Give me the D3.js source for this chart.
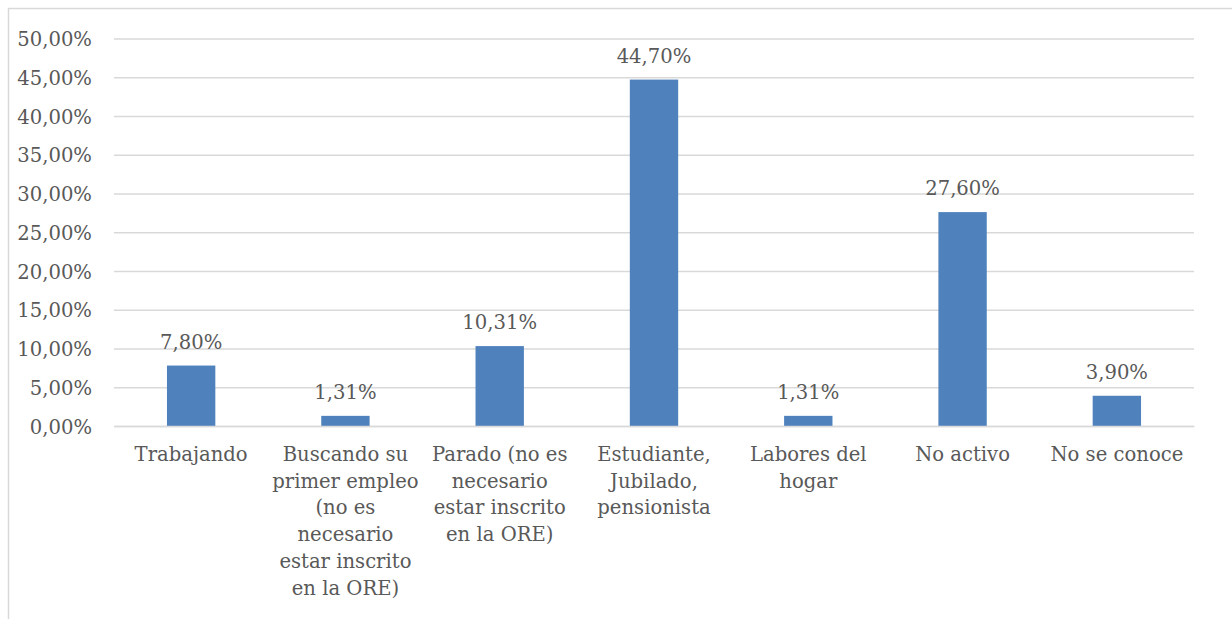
<!DOCTYPE html>
<html><head><meta charset="utf-8">
<script src="https://cdn.jsdelivr.net/npm/d3@7"></script>
<style>body{margin:0;background:#fff}svg{display:block}</style>
</head><body><svg id="c" width="1232" height="619"></svg>
<script>
const categories = [
  ["Trabajando"],
  ["Buscando su","primer empleo","(no es","necesario","estar inscrito","en la ORE)"],
  ["Parado (no es","necesario","estar inscrito","en la ORE)"],
  ["Estudiante,","Jubilado,","pensionista"],
  ["Labores del","hogar"],
  ["No activo"],
  ["No se conoce"]
];
const values = [7.80, 1.31, 10.31, 44.70, 1.31, 27.60, 3.90];
const yTicks = [0,5,10,15,20,25,30,35,40,45,50];

const fmt = v => v.toFixed(2).replace(".", ",") + "%";
const svg = d3.select("#c");
const font = "'DejaVu Serif', serif";
const col = "#595959";
const fs = 19.6;

// outer border
svg.append("rect").attr("x",8.5).attr("y",8.5).attr("width",1300).attr("height",700)
  .attr("fill","none").attr("stroke","#d9d9d9").attr("stroke-width",1.5);

const x = d3.scaleBand().domain(d3.range(values.length)).range([114,1194]).paddingInner(219/319).paddingOuter(219/319/2);
const y = d3.scaleLinear().domain([0,50]).range([426,38.5]);

const yAxis = svg.append("g").attr("transform","translate(114,0)")
  .call(d3.axisLeft(y).tickValues(yTicks).tickSize(-1080).tickPadding(22).tickFormat(fmt));
yAxis.select(".domain").remove();
yAxis.selectAll(".tick line").attr("stroke","#d9d9d9").attr("stroke-width",1.5);
yAxis.selectAll(".tick text").attr("font-family",font).attr("font-size",fs).attr("fill",col).attr("dy","0.36em");

svg.append("g").selectAll("rect").data(values).join("rect")
  .attr("x",(d,i)=>x(i)).attr("width",x.bandwidth())
  .attr("y",d=>y(d)).attr("height",d=>y(0)-y(d)).attr("fill","#4f81bd");

svg.append("g").selectAll("text").data(values).join("text")
  .attr("x",(d,i)=>x(i)+x.bandwidth()/2).attr("y",d=>y(d)-17)
  .attr("text-anchor","middle").attr("font-family",font).attr("font-size",fs).attr("fill",col)
  .text(d=>fmt(d));

const xAxis = svg.append("g").attr("transform","translate(0,426)")
  .call(d3.axisBottom(x).tickSize(0).tickFormat(""));
xAxis.select(".domain").attr("stroke","#d9d9d9").attr("stroke-width",1.5);

const lab = svg.append("g").selectAll("text").data(categories).join("text")
  .attr("x",(d,i)=>x(i)+x.bandwidth()/2).attr("y",461)
  .attr("text-anchor","middle").attr("font-family",font).attr("font-size",fs).attr("fill",col);
lab.each(function(lines,i){
  d3.select(this).selectAll("tspan").data(lines).join("tspan")
    .attr("x",x(i)+x.bandwidth()/2).attr("dy",(d,j)=>j?26.7:0).text(d=>d);
});
</script></body></html>
